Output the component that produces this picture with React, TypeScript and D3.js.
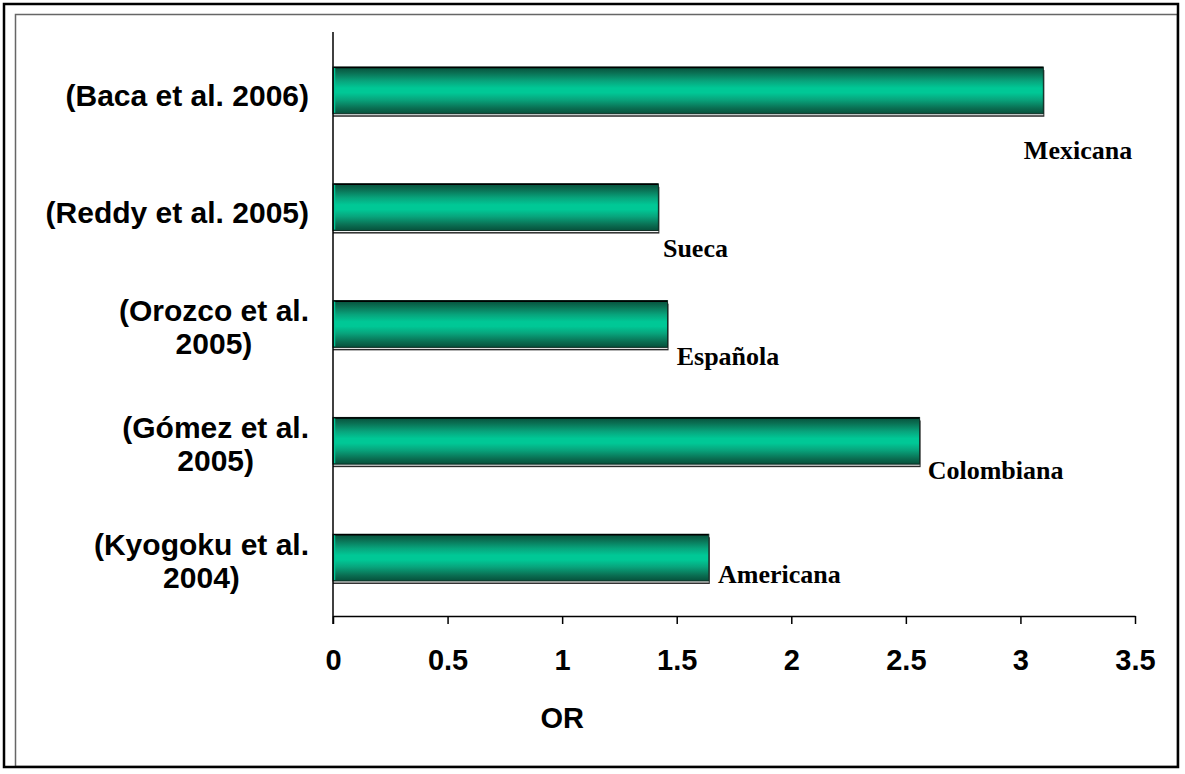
import React, { useEffect, useRef } from "react";
import * as d3 from "d3";

const categories: string[][] = [
  ["(Baca et al. 2006)"],
  ["(Reddy et al. 2005)"],
  ["(Orozco et al.", "2005)"],
  ["(Gómez et al.", "2005)"],
  ["(Kyogoku et al.", "2004)"],
];
const orValues = [3.1, 1.42, 1.46, 2.56, 1.64];
const populations = ["Mexicana", "Sueca", "Española", "Colombiana", "Americana"];
const xTicks = [0, 0.5, 1, 1.5, 2, 2.5, 3, 3.5];
const axisTitle = "OR";
// annotation anchors: x in OR units, y offset (px) below bar bottom for baseline
const labelOR = [3.015, 1.44, 1.50, 2.595, 1.68];
const labelDy = [45, 26, 18, 15, 2];

const W = 1185;
const H = 774;
const SANS = "'Liberation Sans', Arial, sans-serif";

export default function App() {
  const ref = useRef<SVGSVGElement>(null);
  useEffect(() => {
    const svg = d3.select(ref.current);
    svg.selectAll("*").remove();

    const x = d3.scaleLinear().domain([0, 3.5]).range([333, 1135]);
    const y = d3
      .scaleBand<number>()
      .domain(d3.range(categories.length))
      .range([32, 616])
      .paddingInner(0.6)
      .paddingOuter(0.3);

    const defs = svg.append("defs");
    const grad = defs
      .append("linearGradient")
      .attr("id", "barGrad")
      .attr("x1", 0)
      .attr("y1", 0)
      .attr("x2", 0)
      .attr("y2", 1);
    [
      [0, "#06503b"],
      [0.12, "#0a6e52"],
      [0.3, "#08a47c"],
      [0.45, "#00c896"],
      [0.55, "#00c896"],
      [0.7, "#08a47c"],
      [0.88, "#0a6e52"],
      [1, "#06503b"],
    ].forEach(([o, c]) =>
      grad.append("stop").attr("offset", o as number).attr("stop-color", c as string)
    );

    // frames
    svg
      .append("rect")
      .attr("x", 15.5)
      .attr("y", 14.5)
      .attr("width", 1162)
      .attr("height", 752)
      .attr("fill", "white")
      .attr("stroke", "#666")
      .attr("stroke-width", 1.5);
    svg
      .append("rect")
      .attr("x", 4)
      .attr("y", 4)
      .attr("width", 1174)
      .attr("height", 763)
      .attr("fill", "none")
      .attr("stroke", "#000")
      .attr("stroke-width", 2.5);

    // bars
    const g = svg.append("g");
    orValues.forEach((v, i) => {
      const y0 = y(i)!;
      const h = y.bandwidth();
      const x0 = x(0);
      const w = x(v) - x0;
      g.append("rect")
        .attr("x", x0)
        .attr("y", y0 + 3)
        .attr("width", w + 1)
        .attr("height", h)
        .attr("fill", "#2b2b2b");
      g.append("rect")
        .attr("x", x0)
        .attr("y", y0 + 1.5)
        .attr("width", w)
        .attr("height", h)
        .attr("fill", "#fff");
      g.append("rect")
        .attr("x", x0)
        .attr("y", y0)
        .attr("width", w)
        .attr("height", h)
        .attr("fill", "url(#barGrad)")
        .attr("stroke", "#0b2a20")
        .attr("stroke-width", 1);
      g.append("line")
        .attr("x1", x0 + 1)
        .attr("x2", x(v) - 0.5)
        .attr("y1", y0 + 0.5)
        .attr("y2", y0 + 0.5)
        .attr("stroke", "#000")
        .attr("stroke-width", 1.5);
      g.append("line")
        .attr("x1", x0 + 1.5)
        .attr("x2", x0 + 1.5)
        .attr("y1", y0 + 1)
        .attr("y2", y0 + h - 1)
        .attr("stroke", "#00c896")
        .attr("stroke-width", 1.5);
    });

    // axes
    svg
      .append("line")
      .attr("x1", x(0))
      .attr("x2", x(0))
      .attr("y1", 32)
      .attr("y2", 624)
      .attr("stroke", "#000")
      .attr("stroke-width", 1.5);
    const xAxis = svg
      .append("g")
      .attr("transform", "translate(0,616)")
      .call(d3.axisBottom(x).tickValues(xTicks).tickSize(8).tickSizeOuter(0).tickFormat((d) => String(d)));
    xAxis.select(".domain").attr("stroke", "#000").attr("stroke-width", 1.5);
    xAxis.selectAll(".tick line").attr("stroke", "#000").attr("stroke-width", 1.5);
    xAxis
      .selectAll(".tick text")
      .attr("y", 54)
      .attr("dy", 0)
      .attr("font-family", SANS)
      .attr("font-weight", "bold")
      .attr("font-size", 29)
      .attr("fill", "#000");

    svg
      .append("text")
      .attr("x", x(1))
      .attr("y", 728)
      .attr("text-anchor", "middle")
      .attr("font-family", SANS)
      .attr("font-weight", "bold")
      .attr("font-size", 29)
      .text(axisTitle);

    // category labels
    categories.forEach((lines, i) => {
      const cy = y(i)! + y.bandwidth() / 2;
      const t = svg
        .append("text")
        .attr("font-family", SANS)
        .attr("font-weight", "bold")
        .attr("font-size", 30)
        .attr("fill", "#000");
      if (lines.length === 1) {
        t.attr("x", 309).attr("y", cy + 16).attr("text-anchor", "end").text(lines[0]);
      } else {
        const t1 = t.append("tspan").attr("x", 309).attr("y", cy - 3).attr("text-anchor", "end").text(lines[0]);
        const w1 = (t1.node() as SVGTextContentElement).getComputedTextLength();
        t.append("tspan")
          .attr("x", 309 - w1 / 2)
          .attr("y", cy + 30)
          .attr("text-anchor", "middle")
          .text(lines[1]);
      }
    });

    // population labels
    populations.forEach((p, i) => {
      const bottom = y(i)! + y.bandwidth();
      svg
        .append("text")
        .attr("x", x(labelOR[i]))
        .attr("y", bottom + labelDy[i])
        .attr("font-family", "'Liberation Serif', 'Times New Roman', serif")
        .attr("font-weight", "bold")
        .attr("font-size", 26)
        .attr("fill", "#000")
        .text(p);
    });
  }, []);

  return (
    <svg
      ref={ref}
      width={W}
      height={H}
      style={{ position: "absolute", left: 0, top: 0, background: "#fff" }}
    />
  );
}
